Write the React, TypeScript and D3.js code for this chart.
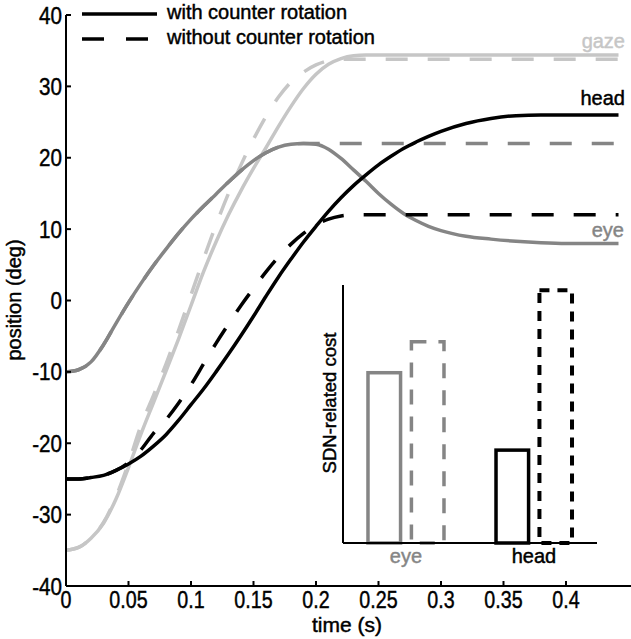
import React from "react";
import * as d3 from "d3";

const T = [0, 0.01, 0.02, 0.03, 0.04, 0.05, 0.06, 0.07, 0.08, 0.09, 0.1, 0.11, 0.12, 0.13, 0.14, 0.15, 0.16, 0.17, 0.18, 0.19, 0.2, 0.21, 0.22, 0.23, 0.24, 0.25, 0.26, 0.27, 0.28, 0.29, 0.3, 0.32, 0.34, 0.36, 0.38, 0.4, 0.42, 0.442];

const gazeWith = [-35, -34.6, -33.3, -31.2, -27.8, -23.4, -18.7, -14.3, -9.9, -5.4, -0.7, 4.0, 8.2, 12.0, 15.4, 18.5, 21.4, 24.4, 27.2, 29.7, 31.7, 33.1, 33.9, 34.3, 34.4, 34.4, 34.4, 34.4, 34.4, 34.4, 34.4, 34.4, 34.4, 34.4, 34.4, 34.4, 34.4, 34.4];
const gazeWithout = [-35, -34.6, -33.3, -31.1, -27.5, -22.8, -17.5, -13.3, -8.9, -4.2, 0.8, 5.8, 10.6, 15.0, 19.0, 22.6, 25.8, 28.5, 30.6, 32.0, 33.0, 33.6, 33.8, 33.8, 33.8, 33.8, 33.8, 33.8, 33.8, 33.8, 33.8, 33.8, 33.8, 33.8, 33.8, 33.8, 33.8, 33.8];
const eyeWith = [-10, -9.7, -8.6, -6.2, -3.2, -0.3, 2.4, 4.9, 7.2, 9.4, 11.4, 13.2, 14.9, 16.6, 18.2, 19.6, 20.7, 21.5, 21.9, 22.0, 21.9, 21.2, 19.9, 18.3, 16.7, 15.0, 13.5, 12.2, 11.2, 10.4, 9.8, 9.0, 8.6, 8.3, 8.1, 8.0, 8.0, 8.0];
const eyeWithout = [-10, -9.7, -8.6, -6.2, -3.2, -0.3, 2.4, 4.9, 7.2, 9.4, 11.4, 13.2, 14.9, 16.6, 18.2, 19.6, 20.7, 21.5, 21.9, 22.0, 22.0, 22.0, 22.0, 22.0, 22.0, 22.0, 22.0, 22.0, 22.0, 22.0, 22.0, 22.0, 22.0, 22.0, 22.0, 22.0, 22.0, 22.0];
const headWith = [-25, -25, -24.8, -24.5, -23.8, -22.9, -21.8, -20.4, -18.8, -16.8, -14.6, -12.4, -10.0, -7.5, -4.9, -2.2, 0.6, 3.3, 5.8, 8.2, 10.4, 12.5, 14.4, 16.1, 17.6, 19.0, 20.2, 21.3, 22.2, 23.0, 23.7, 24.8, 25.5, 25.9, 26.0, 26.0, 26.0, 26.0];
const headWithout = [-25, -25, -24.8, -24.5, -23.8, -22.7, -20.9, -18.6, -16.7, -14.4, -11.8, -8.9, -6.0, -3.3, -0.7, 1.7, 4.0, 6.1, 7.9, 9.4, 10.6, 11.4, 11.85, 12.0, 12.0, 12.0, 12.0, 12.0, 12.0, 12.0, 12.0, 12.0, 12.0, 12.0, 12.0, 12.0, 12.0, 12.0];

const xTicks = [0, 0.05, 0.1, 0.15, 0.2, 0.25, 0.3, 0.35, 0.4];
const yTicks = [-40, -30, -20, -10, 0, 10, 20, 30, 40];

const barGroups = ["eye", "head"];
const barConditions = ["with", "without"];
const barCostWith = [0.66, 0.36];
const barCostWithout = [0.78, 0.98];

const legendLabels = ["with counter rotation", "without counter rotation"];

const LIGHT = "#c6c6c6";
const MID = "#858585";
const BLACK = "#000";
const FONT = "'Liberation Sans', Arial, Helvetica, sans-serif";

export default function App() {
  const x = d3.scaleLinear().domain([0, 0.45]).range([66, 628.5]);
  const y = d3.scaleLinear().domain([-40, 40]).range([586, 15]);

  const line = d3
    .line<number>()
    .x((_, i) => x(T[i]))
    .y((d) => y(d))
    .curve(d3.curveMonotoneX);

  const series = [
    { v: gazeWith, c: LIGHT, dash: null },
    { v: gazeWithout, c: LIGHT, dash: "22 20" },
    { v: eyeWith, c: MID, dash: null },
    { v: eyeWithout, c: MID, dash: "22 20" },
    { v: headWith, c: BLACK, dash: null },
    { v: headWithout, c: BLACK, dash: "22 20" },
  ];

  const gx = d3.scalePoint<string>().domain(barGroups).range([343, 597]).padding(0.492);
  const sub = d3.scaleBand<string>().domain(barConditions).range([-38, 38]).paddingInner(0.25);
  const iy = d3.scaleLinear().domain([0, 1]).range([543, 285]);
  const groupColor = [MID, BLACK];
  const dashFor = ["15 12", "10 8"];

  const xAxisY = y(-40);
  const yAxisX = x(0);
  const heavy = (c: string) => ({ fill: c, stroke: c, strokeWidth: 0.45 });

  return (
    <svg
      width={631}
      height={639}
      style={{ position: "absolute", left: 0, top: 0, background: "#fff" }}
      fontFamily={FONT}
    >
      <rect width={631} height={639} fill="#fff" />
      {series.map((s, i) => (
        <path
          key={i}
          d={line(s.v) || ""}
          fill="none"
          stroke={s.c}
          strokeWidth={3.5}
          strokeDasharray={s.dash || undefined}
        />
      ))}

      <line x1={yAxisX} x2={yAxisX} y1={y(40)} y2={xAxisY} stroke="#000" strokeWidth={2} />
      <line x1={yAxisX} x2={631} y1={xAxisY} y2={xAxisY} stroke="#000" strokeWidth={2} />
      {yTicks.map((t) => (
        <g key={"y" + t}>
          <line x1={yAxisX} x2={yAxisX + 5} y1={y(t)} y2={y(t)} stroke="#000" strokeWidth={2} />
          <text
            transform={`translate(${yAxisX - 4},${y(t) + 8.5}) scale(0.86,1)`}
            textAnchor="end"
            fontSize={24}
            {...heavy("#000")}
          >
            {String(t)}
          </text>
        </g>
      ))}
      {xTicks.map((t) => (
        <g key={"x" + t}>
          <line x1={x(t)} x2={x(t)} y1={xAxisY} y2={xAxisY - 5} stroke="#000" strokeWidth={2} />
          <text
            transform={`translate(${x(t)},${xAxisY + 22}) scale(0.82,1)`}
            textAnchor="middle"
            fontSize={24}
            {...heavy("#000")}
          >
            {String(t)}
          </text>
        </g>
      ))}
      <text x={347} y={632} textAnchor="middle" fontSize={21} {...heavy("#000")}>
        time (s)
      </text>
      <text
        transform={`translate(21,300) rotate(-90)`}
        textAnchor="middle"
        fontSize={20}
        {...heavy("#000")}
      >
        position (deg)
      </text>

      <text x={625} y={48} textAnchor="end" fontSize={20} {...heavy(LIGHT)}>gaze</text>
      <text x={625} y={105} textAnchor="end" fontSize={20} {...heavy(BLACK)}>head</text>
      <text x={624} y={237} textAnchor="end" fontSize={20} {...heavy(MID)}>eye</text>

      <line x1={82} x2={157} y1={14} y2={14} stroke="#000" strokeWidth={3.5} />
      <line x1={82} x2={148} y1={39} y2={39} stroke="#000" strokeWidth={3.5} strokeDasharray="22 22" />
      <text x={167} y={19} fontSize={20} {...heavy("#000")}>{legendLabels[0]}</text>
      <text x={167} y={44} fontSize={20} {...heavy("#000")}>{legendLabels[1]}</text>

      {barGroups.map((g, gi) =>
        barConditions.map((c, ci) => {
          const v = ci === 0 ? barCostWith[gi] : barCostWithout[gi];
          const x0 = (gx(g) as number) + (sub(c) as number);
          const w = sub.bandwidth();
          return (
            <rect
              key={g + c}
              x={x0}
              y={iy(v)}
              width={w}
              height={iy(0) - iy(v)}
              fill="none"
              stroke={groupColor[gi]}
              strokeWidth={ci === 1 && gi === 1 ? 4 : 3.5}
              strokeDasharray={ci === 0 ? undefined : dashFor[gi]}
            />
          );
        })
      )}
      <line x1={343} x2={343} y1={285} y2={543} stroke="#000" strokeWidth={2} />
      <line x1={343} x2={597} y1={543} y2={543} stroke="#000" strokeWidth={2} />
      {barGroups.map((g, gi) => (
        <text key={g} x={gx(g) as number} y={563} textAnchor="middle" fontSize={20} {...heavy(groupColor[gi])}>
          {g}
        </text>
      ))}
      <text transform="translate(336,403) rotate(-90)" textAnchor="middle" fontSize={18.5} {...heavy("#000")}>
        SDN-related cost
      </text>
    </svg>
  );
}
